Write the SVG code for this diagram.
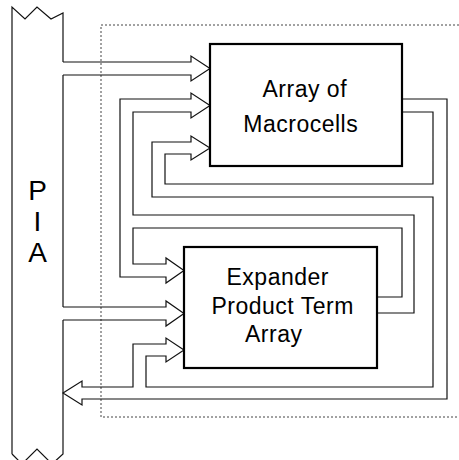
<svg xmlns="http://www.w3.org/2000/svg" width="459" height="460" viewBox="0 0 459 460">
  <style>
    .bus { fill: none; stroke: #111; stroke-width: 1.2; stroke-linejoin: miter; }
    .box { fill: #fff; stroke: #000; stroke-width: 2.2; }
    .frame { fill: none; stroke: #444; stroke-width: 1; stroke-dasharray: 2 2; }
    .lbl { font-family: "Liberation Sans", Arial, sans-serif; font-size: 23px; letter-spacing: 0.5px; fill: #000; }
    .pia { font-family: "Liberation Sans", Arial, sans-serif; font-size: 28px; fill: #000; text-anchor: middle; }
  </style>
  <rect width="459" height="460" fill="#fff"/>

  <!-- LAB boundary -->
  <path class="frame" d="M459,25 H101 V417 H459"/>

  <!-- PIA band -->
  <g id="pia">
    <path class="bus" d="M12,454 V7 L25,19 L37,7 L51,19 L63,13 V62 M63,75 V307 M63,320 V454 L52,464 L37,449 L22,464 L12,454"/>
    <text class="pia" x="37.5" y="199.5">P</text>
    <text class="pia" x="37.5" y="231">I</text>
    <text class="pia" x="37.5" y="261.5">A</text>
  </g>

  <!-- buses between PIA, macrocells and expanders -->
  <g id="connectors">
    <!-- PIA to macrocells and PIA to expanders -->
    <path class="bus" d="M63,62 H191 V56 L210,68.5 L191,81 V75 H63"/>
    <path class="bus" d="M63,307 H166 V301 L184,313.5 L166,326 V320 H63"/>
    <!-- expander outputs fed to macrocells and back to expanders -->
    <path class="bus" d="M377,297 H402 V228 H133 V264 H166 V258 L184,270.5 L166,283 V277 H120 V99 H191 V93 L210,105.5 L191,118 V112 H133 V215 H414 V313 H377"/>
    <!-- macrocell outputs fed back to macrocells, expanders and PIA -->
    <path class="bus" d="M402,112 H433 V184 H165 V154 H191 V160 L210,148 L191,136 V142 H152 V197 H433 V387 H146 V356 H166 V362 L184,350 L166,338 V344 H133 V387 H82 V381 L63,393 L82,405 V399 H447 V99 H402"/>
  </g>

  <g id="macrocells">
    <rect class="box" x="210" y="44" width="192" height="122"/>
    <text class="lbl" x="262.5" y="97">Array of</text>
    <text class="lbl" x="243.3" y="132">Macrocells</text>
  </g>

  <g id="expanders">
    <rect class="box" x="184" y="247" width="193" height="121"/>
    <text class="lbl" x="226.5" y="285">Expander</text>
    <text class="lbl" x="211.5" y="314">Product Term</text>
    <text class="lbl" x="245" y="342">Array</text>
  </g>
</svg>
